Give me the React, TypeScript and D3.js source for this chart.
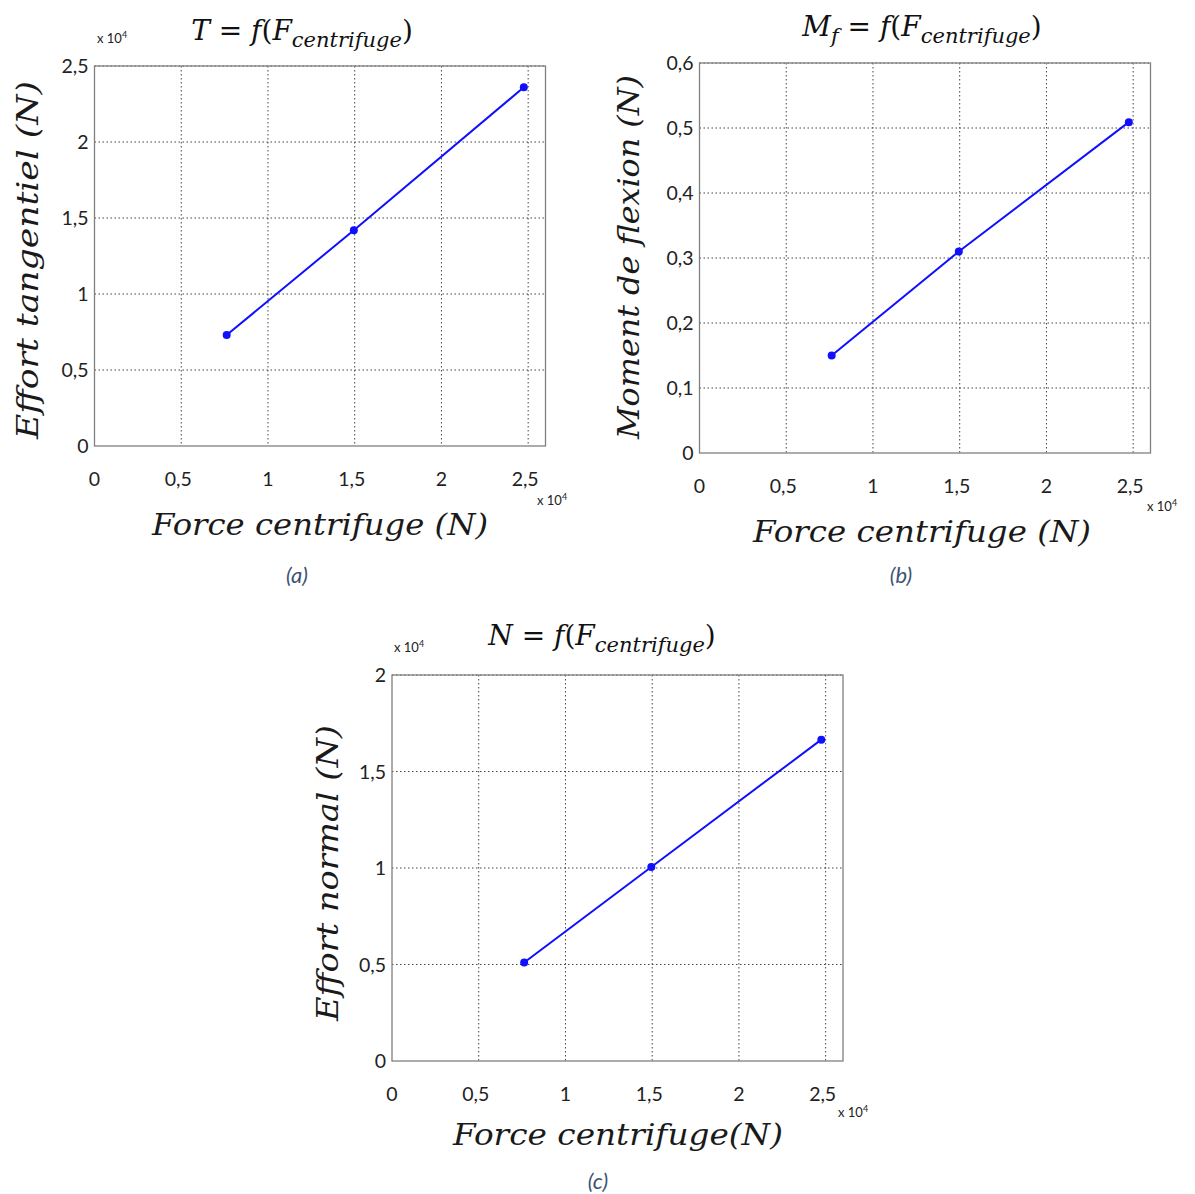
import React from "react";
import * as d3 from "d3";

// ---- data (values in units of 10^4 N, except moment) ----
const forceCentrifuge = [0.762, 1.495, 2.475];
const effortTangentiel = [0.73, 1.42, 2.36];
const momentFlexion = [0.15, 0.31, 0.509];
const effortNormal = [0.51, 1.005, 1.665];

const xTicks = [0, 0.5, 1, 1.5, 2, 2.5];
const yTicksT = [0, 0.5, 1, 1.5, 2, 2.5];
const yTicksM = [0, 0.1, 0.2, 0.3, 0.4, 0.5, 0.6];
const yTicksN = [0, 0.5, 1, 1.5, 2];

const xDomain: [number, number] = [0, 2.6];

const frLocale = d3.formatLocale({ decimal: ",", thousands: " ", grouping: [3], currency: ["", "€"] });
const fmt = (v: number) => frLocale.format("~g")(v);

const SERIF = "'DejaVu Serif', 'Liberation Serif', serif";
const SANS = "Lato, 'Open Sans', 'Liberation Sans', sans-serif";

type TitlePart = { t: string; italic?: boolean; sub?: boolean };

function Title({ x, y, parts }: { x: number; y: number; parts: TitlePart[] }) {
  let subOn = false;
  return (
    <text x={x} y={y} textAnchor="middle" fontFamily={SERIF} fontSize={28} fill="#111">
      {parts.map((p, i) => {
        let dy = 0;
        if (p.sub && !subOn) { dy = 7; subOn = true; }
        else if (!p.sub && subOn) { dy = -7; subOn = false; }
        return (
          <tspan key={i} dy={dy} fontStyle={p.italic ? "italic" : "normal"} fontSize={p.sub ? 21 : 28}>
            {p.t}
          </tspan>
        );
      })}
    </text>
  );
}

function Exp({ x, y }: { x: number; y: number }) {
  return (
    <text x={x} y={y} fontFamily={SANS} fontSize={13} fill="#222">
      x 10<tspan dy={-5} fontSize={9}>4</tspan>
    </text>
  );
}

type PanelProps = {
  left: number; top: number; right: number; bottom: number;
  yDomain: [number, number]; yTicks: number[]; yValues: number[];
};

function Panel({ left, top, right, bottom, yDomain, yTicks, yValues }: PanelProps) {
  const x = d3.scaleLinear().domain(xDomain).range([left, right]);
  const y = d3.scaleLinear().domain(yDomain).range([bottom, top]);
  const line = d3.line<number>().x((_, i) => x(forceCentrifuge[i])).y((d) => y(d));
  const grid = "#444";
  return (
    <g>
      <rect x={left} y={top} width={right - left} height={bottom - top} fill="#fff" />
      {xTicks.filter((t) => t > 0).map((t) => (
        <line key={"gx" + t} x1={x(t)} x2={x(t)} y1={top} y2={bottom} stroke={grid} strokeWidth={1} strokeDasharray="1.5,2.5" />
      ))}
      {yTicks.filter((t) => t > 0).map((t) => (
        <line key={"gy" + t} x1={left} x2={right} y1={y(t)} y2={y(t)} stroke={grid} strokeWidth={1} strokeDasharray="1.5,2.5" />
      ))}
      <rect x={left} y={top} width={right - left} height={bottom - top} fill="none" stroke="#808080" strokeWidth={1.3} />
      {xTicks.map((t) => (
        <text key={"tx" + t} x={x(t) - (t % 1 !== 0 ? 3 : 0)} y={bottom + 40} textAnchor="middle" fontFamily={SANS} fontSize={19.5} fill="#222">
          {fmt(t)}
        </text>
      ))}
      {yTicks.map((t) => (
        <text key={"ty" + t} x={left - 6} y={y(t) + 7} textAnchor="end" fontFamily={SANS} fontSize={19.5} fill="#222">
          {fmt(t)}
        </text>
      ))}
      <path d={line(yValues) || ""} fill="none" stroke="#1010ff" strokeWidth={2} />
      {yValues.map((v, i) => (
        <circle key={"p" + i} cx={x(forceCentrifuge[i])} cy={y(v)} r={4} fill="#1010ff" />
      ))}
    </g>
  );
}

function AxisLabel({ x, y, text, len, rotate }: { x: number; y: number; text: string; len: number; rotate?: boolean }) {
  return (
    <text
      x={rotate ? 0 : x}
      y={rotate ? 0 : y}
      transform={rotate ? `translate(${x},${y}) rotate(-90)` : undefined}
      textAnchor="middle"
      fontFamily={SERIF}
      fontStyle="italic"
      fontSize={29}
      fill="#1a1a1a"
      textLength={len}
      lengthAdjust="spacingAndGlyphs"
    >
      {text}
    </text>
  );
}

function Caption({ x, y, text }: { x: number; y: number; text: string }) {
  return (
    <text x={x} y={y} textAnchor="middle" fontFamily={SANS} fontStyle="italic" fontSize={22} fill="#3d5374">
      {text}
    </text>
  );
}

export default function App() {
  return (
    <svg width={1195} height={1194} style={{ position: "absolute", left: 0, top: 0, background: "#fff" }}>
      <rect width={1195} height={1194} fill="#fff" />
      {/* (a) */}
      <Title x={302} y={40} parts={[{ t: "T", italic: true }, { t: " = " }, { t: "f", italic: true }, { t: "(" }, { t: "F", italic: true }, { t: "centrifuge", italic: true, sub: true }, { t: ")" }]} />
      <Exp x={97} y={43} />
      <Panel left={94.5} top={66} right={545.5} bottom={446} yDomain={[0, 2.5]} yTicks={yTicksT} yValues={effortTangentiel} />
      <AxisLabel x={38} y={260} text="Effort tangentiel (N)" len={358} rotate />
      <AxisLabel x={320} y={535} text="Force centrifuge (N)" len={336} />
      <Exp x={537} y={505} />
      <Caption x={297} y={583} text="(a)" />

      {/* (b) */}
      <Title x={922} y={36} parts={[{ t: "M", italic: true }, { t: "f", italic: true, sub: true }, { t: " = " }, { t: "f", italic: true }, { t: "(" }, { t: "F", italic: true }, { t: "centrifuge", italic: true, sub: true }, { t: ")" }]} />
      <Panel left={699.5} top={63} right={1150.5} bottom={453} yDomain={[0, 0.6]} yTicks={yTicksM} yValues={momentFlexion} />
      <AxisLabel x={639} y={257} text="Moment de flexion (N)" len={364} rotate />
      <AxisLabel x={922} y={542} text="Force centrifuge (N)" len={338} />
      <Exp x={1147} y={511} />
      <Caption x={901} y={583} text="(b)" />

      {/* (c) */}
      <Title x={602} y={645} parts={[{ t: "N", italic: true }, { t: " = " }, { t: "f", italic: true }, { t: "(" }, { t: "F", italic: true }, { t: "centrifuge", italic: true, sub: true }, { t: ")" }]} />
      <Exp x={394} y={652} />
      <Panel left={392} top={675} right={843} bottom={1061} yDomain={[0, 2]} yTicks={yTicksN} yValues={effortNormal} />
      <AxisLabel x={338} y={873} text="Effort normal (N)" len={296} rotate />
      <AxisLabel x={618} y={1145} text="Force centrifuge(N)" len={330} />
      <Exp x={838} y={1117} />
      <Caption x={598} y={1189} text="(c)" />
    </svg>
  );
}
